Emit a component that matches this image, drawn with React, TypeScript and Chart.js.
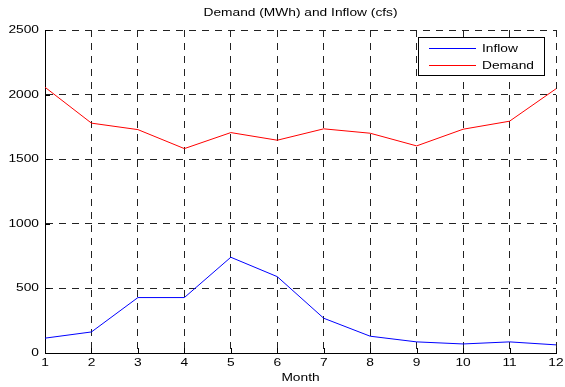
import React, { useEffect, useRef } from "react";
import { Chart, registerables } from "chart.js";

Chart.register(...registerables);

const months = [1, 2, 3, 4, 5, 6, 7, 8, 9, 10, 11, 12];
const inflow = [115, 163, 429, 429, 741, 591, 269, 130, 86, 70, 86, 63];
const demand = [2057, 1779, 1729, 1582, 1706, 1647, 1735, 1701, 1603, 1732, 1794, 2045];
const seriesLabels = ["Inflow", "Demand"];
const seriesColors = ["#0000ff", "#ff0000"];
const titleText = "Demand (MWh) and Inflow (cfs)";
const xAxisTitle = "Month";
const yTicks = [0, 500, 1000, 1500, 2000, 2500];

const FONT = '11px "Liberation Sans", Arial, sans-serif';
const SX = 1.25;

function drawStretched(ctx: CanvasRenderingContext2D, text: string, x: number, y: number, align: CanvasTextAlign) {
  ctx.save();
  ctx.translate(x, y);
  ctx.scale(SX, 1);
  ctx.font = FONT;
  ctx.fillStyle = "#000";
  ctx.textAlign = align;
  ctx.textBaseline = "middle";
  ctx.fillText(text, 0, 0);
  ctx.restore();
}

const matlabPlugin = {
  id: "matlabDecor",
  afterDatasetsDraw(chart: any) {
    const ctx: CanvasRenderingContext2D = chart.ctx;
    const area = chart.chartArea;
    const xs = chart.scales.x;
    const ys = chart.scales.y;
    // inward ticks
    ctx.save();
    ctx.strokeStyle = "#000";
    ctx.lineWidth = 1;
    ctx.setLineDash([]);
    ctx.beginPath();
    months.forEach((m) => {
      const px = Math.round(xs.getPixelForValue(m)) + 0.5;
      ctx.moveTo(px, area.bottom);
      ctx.lineTo(px, area.bottom - 5);
    });
    yTicks.forEach((v) => {
      const py = Math.round(ys.getPixelForValue(v)) + 0.5;
      ctx.moveTo(area.left, py);
      ctx.lineTo(area.left + 5, py);
    });
    ctx.stroke();
    ctx.restore();

    // tick labels
    months.forEach((m) => {
      drawStretched(ctx, String(m), xs.getPixelForValue(m), area.bottom + 10, "center");
    });
    yTicks.forEach((v) => {
      drawStretched(ctx, String(v), area.left - 6, ys.getPixelForValue(v), "right");
    });

    const cx = (area.left + area.right) / 2;
    drawStretched(ctx, titleText, cx, 13, "center");
    drawStretched(ctx, xAxisTitle, cx, 378, "center");

    // legend
    const lx = 418.5, ly = 37.5, lw = 126, lh = 38;
    ctx.save();
    ctx.setLineDash([]);
    ctx.fillStyle = "#fff";
    ctx.fillRect(lx, ly, lw, lh);
    ctx.strokeStyle = "#000";
    ctx.lineWidth = 1;
    ctx.strokeRect(lx, ly, lw, lh);
    const rows = [48.5, 65.5];
    seriesLabels.forEach((lab, i) => {
      ctx.strokeStyle = seriesColors[i];
      ctx.beginPath();
      ctx.moveTo(429, rows[i]);
      ctx.lineTo(476, rows[i]);
      ctx.stroke();
    });
    ctx.restore();
    seriesLabels.forEach((lab, i) => {
      drawStretched(ctx, lab, 482, rows[i], "left");
    });
  },
};

export default function App() {
  const ref = useRef<HTMLCanvasElement | null>(null);
  useEffect(() => {
    if (!ref.current) return;
    const chart = new Chart(ref.current, {
      type: "line",
      data: {
        datasets: [
          {
            label: seriesLabels[0],
            data: months.map((m, i) => ({ x: m, y: inflow[i] })),
            borderColor: seriesColors[0],
            backgroundColor: seriesColors[0],
            borderWidth: 1,
            pointRadius: 0,
            tension: 0,
          },
          {
            label: seriesLabels[1],
            data: months.map((m, i) => ({ x: m, y: demand[i] })),
            borderColor: seriesColors[1],
            backgroundColor: seriesColors[1],
            borderWidth: 1,
            pointRadius: 0,
            tension: 0,
          },
        ],
      },
      options: {
        responsive: false,
        animation: false,
        layout: { padding: { top: 30, right: 9, left: 0, bottom: 0 } },
        plugins: {
          legend: { display: false },
          title: { display: false },
          tooltip: { enabled: false },
        },
        scales: {
          x: {
            type: "linear",
            min: 1,
            max: 12,
            ticks: { stepSize: 1, display: false },
            grid: { color: "#222", lineWidth: 1, drawTicks: false },
            border: { display: true, color: "#000", width: 1, dash: [7, 6] },
            afterFit: (s: any) => {
              s.height = 34;
            },
          },
          y: {
            type: "linear",
            min: 0,
            max: 2500,
            ticks: { stepSize: 500, display: false },
            grid: { color: "#222", lineWidth: 1, drawTicks: false },
            border: { display: true, color: "#000", width: 1, dash: [7, 6] },
            afterFit: (s: any) => {
              s.width = 45;
            },
          },
        },
      },
      plugins: [matlabPlugin],
    } as any);
    return () => chart.destroy();
  }, []);
  return (
    <div style={{ position: "fixed", left: 0, top: 0, width: 565, height: 387, background: "#fff" }}>
      <canvas ref={ref} width={565} height={387} />
    </div>
  );
}
